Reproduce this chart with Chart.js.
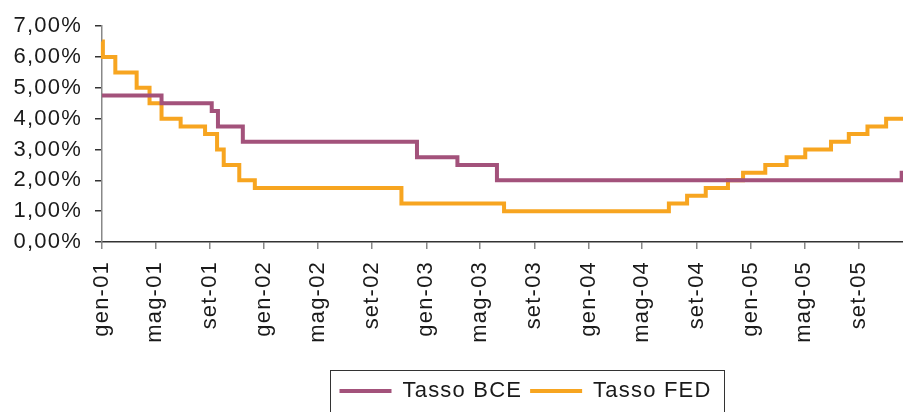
<!DOCTYPE html>
<html>
<head>
<meta charset="utf-8">
<script src="https://cdn.jsdelivr.net/npm/chart.js@4/dist/chart.umd.min.js"></script>
<style>
  html, body { margin: 0; padding: 0; background: #fff; }
  #wrap { width: 903px; height: 412px; }
</style>
</head>
<body>
<div id="wrap"><canvas id="c" width="903" height="412"></canvas></div>
<script>
// Policy rates: each entry is the date a new rate took effect and the rate in %
const bceDates = ['2001-01-01', '2001-05-15', '2001-09-05', '2001-09-19', '2001-11-14',
                  '2002-12-11', '2003-03-12', '2003-06-09', '2005-12-06'];
const bceRates = [4.75, 4.50, 4.25, 3.75, 3.25, 2.75, 2.50, 2.00, 2.25];

const fedDates = ['2001-01-01', '2001-01-03', '2001-01-31', '2001-03-20', '2001-04-18', '2001-05-15',
                  '2001-06-27', '2001-08-21', '2001-09-17', '2001-10-02', '2001-11-06', '2001-12-11',
                  '2002-11-06', '2003-06-25', '2004-06-30', '2004-08-10', '2004-09-21', '2004-11-10',
                  '2004-12-14', '2005-02-02', '2005-03-22', '2005-05-03', '2005-06-30', '2005-08-09',
                  '2005-09-20', '2005-11-01'];
const fedRates = [6.50, 6.00, 5.50, 5.00, 4.50, 4.00, 3.75, 3.50, 3.00, 2.50, 2.00, 1.75,
                  1.25, 1.00, 1.25, 1.50, 1.75, 2.00, 2.25, 2.50, 2.75, 3.00, 3.25, 3.50,
                  3.75, 4.00];

// Axis: first and last day shown, and the month ticks with their labels
const startDate = '2001-01-01';
const endDate = '2005-12-09';
const tickDates = ['2001-01-01', '2001-05-01', '2001-09-01', '2002-01-01', '2002-05-01', '2002-09-01',
                   '2003-01-01', '2003-05-01', '2003-09-01', '2004-01-01', '2004-05-01', '2004-09-01',
                   '2005-01-01', '2005-05-01', '2005-09-01'];
const tickLabels = ['gen-01', 'mag-01', 'set-01', 'gen-02', 'mag-02', 'set-02',
                    'gen-03', 'mag-03', 'set-03', 'gen-04', 'mag-04', 'set-04',
                    'gen-05', 'mag-05', 'set-05'];

const DAY = 86400000;
const dayOf = s => Math.round((Date.parse(s + 'T00:00:00Z') - Date.parse(startDate + 'T00:00:00Z')) / DAY);
const lastDay = dayOf(endDate);
const tickDays = tickDates.map(dayOf);

// Step series: each rate holds until the next change, the last one until the axis end
function steps(dates, rates) {
  const pts = dates.map((d, i) => ({ x: dayOf(d), y: rates[i] }));
  pts.push({ x: lastDay, y: rates[rates.length - 1] });
  return pts;
}

const FONT = "'Liberation Sans', Arial, Helvetica, sans-serif";
const FONT_SIZE = 22;
const TEXT = '#1a1a1a';
const legendOffsetX = 74;   // legend row sits right of the canvas centre

// Slightly tracked lettering, as in the office-style chart text
const tracking = {
  id: 'tracking',
  beforeUpdate(chart) { chart.ctx.letterSpacing = '1.2px'; },
  beforeDraw(chart) { chart.ctx.letterSpacing = '1.2px'; }
};

// Shift the legend row and draw a thin frame around it
const legendFrame = {
  id: 'legendFrame',
  afterLayout(chart) {
    const lg = chart.legend;
    if (!lg) return;
    lg.left += legendOffsetX;
    lg.right += legendOffsetX;
  },
  afterDraw(chart) {
    const lg = chart.legend;
    if (!lg || !lg.legendHitBoxes || !lg.legendHitBoxes.length) return;
    const hb = lg.legendHitBoxes;
    const first = hb[0], last = hb[hb.length - 1];
    const left = first.left - 9.5;
    const right = last.left + last.width + 12.5;
    const top = first.top - 10;
    const ctx = chart.ctx;
    ctx.save();
    ctx.strokeStyle = '#333';
    ctx.lineWidth = 1;
    ctx.strokeRect(Math.round(left) + 0.5, Math.round(top) + 0.5, Math.round(right - left), 60);
    ctx.restore();
  }
};

new Chart(document.getElementById('c'), {
  type: 'line',
  data: {
    datasets: [
      {
        label: 'Tasso BCE',
        data: steps(bceDates, bceRates),
        borderColor: '#A3527B',
        backgroundColor: '#A3527B',
        borderWidth: 4,
        stepped: true,
        pointRadius: 0,
        fill: false,
        clip: false
      },
      {
        label: 'Tasso FED',
        data: steps(fedDates, fedRates),
        borderColor: '#F7A520',
        backgroundColor: '#F7A520',
        borderWidth: 4,
        stepped: true,
        pointRadius: 0,
        fill: false,
        clip: false
      }
    ]
  },
  options: {
    responsive: false,
    animation: false,
    devicePixelRatio: 1,
    layout: { padding: { top: 26, left: 0, right: 0, bottom: 0 } },
    plugins: {
      tooltip: { enabled: false },
      title: { display: false },
      legend: {
        display: true,
        position: 'bottom',
        align: 'center',
        labels: {
          color: TEXT,
          font: { family: FONT, size: FONT_SIZE },
          usePointStyle: true,
          pointStyle: 'line',
          pointStyleWidth: 52,
          boxHeight: 4,
          padding: 8
        }
      }
    },
    scales: {
      x: {
        type: 'linear',
        min: 0,
        max: lastDay,
        afterFit(scale) { scale.height = 130; },
        afterBuildTicks(scale) { scale.ticks = tickDays.map(v => ({ value: v })); },
        grid: { drawOnChartArea: false, drawTicks: true, tickLength: 7, color: '#888', lineWidth: 1.5 },
        border: { display: true, color: '#333', width: 1.5 },
        ticks: {
          autoSkip: false,
          minRotation: 90,
          maxRotation: 90,
          padding: 12,
          color: TEXT,
          font: { family: FONT, size: FONT_SIZE },
          callback(value) {
            const i = tickDays.indexOf(value);
            return i >= 0 ? tickLabels[i] : '';
          }
        }
      },
      y: {
        min: 0,
        max: 7,
        afterFit(scale) { scale.width = 102; },
        grid: { drawOnChartArea: false, drawTicks: true, tickLength: 7, color: '#333', lineWidth: 1.5 },
        border: { display: true, color: '#888', width: 1.5 },
        ticks: {
          stepSize: 1,
          padding: 13,
          color: TEXT,
          font: { family: FONT, size: FONT_SIZE },
          callback: v => v.toFixed(2).replace('.', ',') + '%'
        }
      }
    }
  },
  plugins: [tracking, legendFrame]
});
</script>
</body>
</html>
